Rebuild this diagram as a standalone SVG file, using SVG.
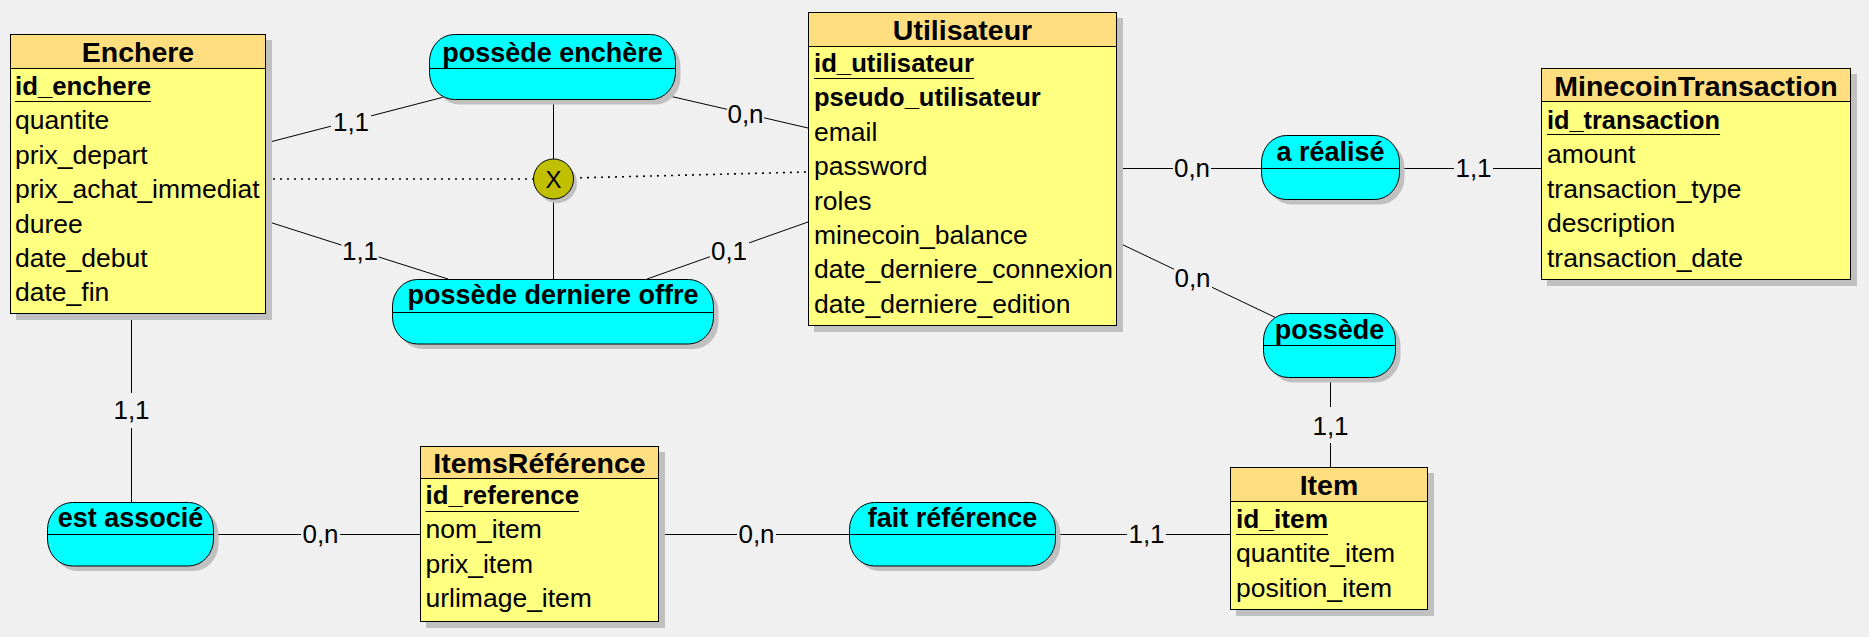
<svg xmlns="http://www.w3.org/2000/svg" width="1869" height="637" viewBox="0 0 1869 637">
<style>
.bg{fill:#f0f0f0}
.sh{fill:#c0c0c0}
.eh{fill:#ffde80;stroke:#000;stroke-width:1}
.eb{fill:#ffff80;stroke:#000;stroke-width:1}
.as{fill:#00ffff;stroke:#000;stroke-width:1}
.dv{stroke:#000;stroke-width:1}
.ln{stroke:#000;stroke-width:1;fill:none}
.dot{stroke:#000;stroke-width:1.6;stroke-dasharray:2 5;fill:none}
text{font-family:'Liberation Sans',Arial,sans-serif;fill:#000}
.et{font-size:28.5px;font-weight:bold;text-anchor:middle}
.at{font-size:27px;font-weight:bold;text-anchor:middle}
.a{font-size:26.5px}
.pk{font-size:25.5px;font-weight:bold}
.c{font-size:26px;text-anchor:middle}
.x{font-size:24px;text-anchor:middle}
</style>
<rect class="bg" x="0" y="0" width="1869" height="637"/>

<g id="connectors">
  <path class="ln" d="M266,143 L331,126.2 M371,115.9 L444,97"/>
  <text class="c" x="351" y="131">1,1</text>
  <path class="ln" d="M266,221 L341.5,245.1 M378.5,256.9 L448,279"/>
  <text class="c" x="360" y="260">1,1</text>
  <path class="ln" d="M665,95 L727,109.3 M764,117.8 L808,128"/>
  <text class="c" x="745.5" y="123">0,n</text>
  <path class="ln" d="M647,279 L710,256.7 M749,242.9 L808,222"/>
  <text class="c" x="729" y="260">0,1</text>
  <path class="ln" d="M553.5,100 V159 M553.5,199 V279"/>
  <path class="dot" d="M266,179 H533"/>
  <path class="dot" d="M573,178 L808,172"/>
  <path class="ln" d="M1117,168.5 H1173 M1211,168.5 H1261"/>
  <text class="c" x="1192" y="177">0,n</text>
  <path class="ln" d="M1400,168.5 H1454 M1493,168.5 H1541"/>
  <text class="c" x="1473.5" y="177">1,1</text>
  <path class="ln" d="M1117,242 L1174,269.2 M1212,287.3 L1276.5,318"/>
  <text class="c" x="1192.5" y="287">0,n</text>
  <path class="ln" d="M1330.5,378 V407 M1330.5,443 V467"/>
  <text class="c" x="1330.5" y="435">1,1</text>
  <path class="ln" d="M131.5,314 V393 M131.5,428 V502"/>
  <text class="c" x="131.5" y="419">1,1</text>
  <path class="ln" d="M214,534.5 H301 M340,534.5 H420"/>
  <text class="c" x="320.5" y="543">0,n</text>
  <path class="ln" d="M658,534.5 H737 M776,534.5 H849"/>
  <text class="c" x="756.5" y="543">0,n</text>
  <path class="ln" d="M1056,534.5 H1127 M1166,534.5 H1230"/>
  <text class="c" x="1146.5" y="543">1,1</text>
</g>

<g id="x-constraint">
  <circle class="sh" cx="557" cy="183" r="20"/>
  <circle cx="553.5" cy="179" r="20" fill="#c0c000" stroke="#000" stroke-width="1"/>
  <text class="x" x="553.5" y="188">X</text>
</g>

<g id="enchere">
  <rect class="sh" x="16" y="40" width="256" height="280"/>
  <rect class="eb" x="10.5" y="34.5" width="255" height="279"/>
  <rect class="eh" x="10.5" y="34.5" width="255" height="34"/>
  <text class="et" x="138" y="62">Enchere</text>
  <text class="pk" x="15" y="95" textLength="136" lengthAdjust="spacingAndGlyphs">id_enchere</text>
  <line class="dv" x1="15" y1="101.5" x2="151" y2="101.5"/>
  <text class="a" x="15" y="129.4">quantite</text>
  <text class="a" x="15" y="163.8">prix_depart</text>
  <text class="a" x="15" y="198.2">prix_achat_immediat</text>
  <text class="a" x="15" y="232.6">duree</text>
  <text class="a" x="15" y="267">date_debut</text>
  <text class="a" x="15" y="301.4">date_fin</text>
</g>

<g id="utilisateur">
  <rect class="sh" x="814" y="18" width="309" height="314"/>
  <rect class="eb" x="808.5" y="12.5" width="308" height="313"/>
  <rect class="eh" x="808.5" y="12.5" width="308" height="34"/>
  <text class="et" x="962.5" y="40">Utilisateur</text>
  <text class="pk" x="814" y="72" textLength="160" lengthAdjust="spacingAndGlyphs">id_utilisateur</text>
  <line class="dv" x1="814" y1="78.5" x2="974" y2="78.5"/>
  <text class="pk" x="814" y="106.4">pseudo_utilisateur</text>
  <text class="a" x="814" y="140.8">email</text>
  <text class="a" x="814" y="175.2">password</text>
  <text class="a" x="814" y="209.6">roles</text>
  <text class="a" x="814" y="244">minecoin_balance</text>
  <text class="a" x="814" y="278.4">date_derniere_connexion</text>
  <text class="a" x="814" y="312.8">date_derniere_edition</text>
</g>

<g id="minecointransaction">
  <rect class="sh" x="1547" y="74" width="310" height="212"/>
  <rect class="eb" x="1541.5" y="68.5" width="309" height="211"/>
  <rect class="eh" x="1541.5" y="68.5" width="309" height="33"/>
  <text class="et" x="1696" y="95.5">MinecoinTransaction</text>
  <text class="pk" x="1547" y="129" textLength="173" lengthAdjust="spacingAndGlyphs">id_transaction</text>
  <line class="dv" x1="1547" y1="134.5" x2="1720" y2="134.5"/>
  <text class="a" x="1547" y="163.4">amount</text>
  <text class="a" x="1547" y="197.8">transaction_type</text>
  <text class="a" x="1547" y="232.2">description</text>
  <text class="a" x="1547" y="266.6">transaction_date</text>
</g>

<g id="itemsreference">
  <rect class="sh" x="426" y="452" width="239" height="176"/>
  <rect class="eb" x="420.5" y="446.5" width="238" height="175"/>
  <rect class="eh" x="420.5" y="446.5" width="238" height="32"/>
  <text class="et" x="539.5" y="473">ItemsRéférence</text>
  <text class="pk" x="425.5" y="504" textLength="153.5" lengthAdjust="spacingAndGlyphs">id_reference</text>
  <line class="dv" x1="425.5" y1="511.5" x2="579" y2="511.5"/>
  <text class="a" x="425.5" y="538.4">nom_item</text>
  <text class="a" x="425.5" y="572.8">prix_item</text>
  <text class="a" x="425.5" y="607.2">urlimage_item</text>
</g>

<g id="item">
  <rect class="sh" x="1236" y="473" width="198" height="143"/>
  <rect class="eb" x="1230.5" y="467.5" width="197" height="142"/>
  <rect class="eh" x="1230.5" y="467.5" width="197" height="34"/>
  <text class="et" x="1329" y="495">Item</text>
  <text class="pk" x="1236" y="528" textLength="92" lengthAdjust="spacingAndGlyphs">id_item</text>
  <line class="dv" x1="1236" y1="534.5" x2="1328" y2="534.5"/>
  <text class="a" x="1236" y="562.4">quantite_item</text>
  <text class="a" x="1236" y="596.8">position_item</text>
</g>

<g id="possede-enchere">
  <rect class="sh" x="434.5" y="39.5" width="246" height="65" rx="25" ry="27"/>
  <rect class="as" x="429.5" y="34.5" width="246" height="65" rx="25" ry="27"/>
  <line class="dv" x1="429.5" y1="68.5" x2="675.5" y2="68.5"/>
  <text class="at" x="552.5" y="62">possède enchère</text>
</g>

<g id="possede-derniere-offre">
  <rect class="sh" x="397.5" y="284.5" width="321" height="64.5" rx="25" ry="27"/>
  <rect class="as" x="392.5" y="279.5" width="321" height="64.5" rx="25" ry="27"/>
  <line class="dv" x1="392.5" y1="312.5" x2="713.5" y2="312.5"/>
  <text class="at" x="553" y="304">possède derniere offre</text>
</g>

<g id="a-realise">
  <rect class="sh" x="1266.5" y="140.5" width="138" height="64" rx="25" ry="27"/>
  <rect class="as" x="1261.5" y="135.5" width="138" height="64" rx="25" ry="27"/>
  <line class="dv" x1="1261.5" y1="168.5" x2="1399.5" y2="168.5"/>
  <text class="at" x="1330.5" y="161">a réalisé</text>
</g>

<g id="possede">
  <rect class="sh" x="1268.5" y="318.5" width="132" height="64" rx="25" ry="27"/>
  <rect class="as" x="1263.5" y="313.5" width="132" height="64" rx="25" ry="27"/>
  <line class="dv" x1="1263.5" y1="345.5" x2="1395.5" y2="345.5"/>
  <text class="at" x="1329.5" y="339">possède</text>
</g>

<g id="est-associe">
  <rect class="sh" x="52.5" y="507.5" width="166" height="63.5" rx="25" ry="27"/>
  <rect class="as" x="47.5" y="502.5" width="166" height="63.5" rx="25" ry="27"/>
  <line class="dv" x1="47.5" y1="534.5" x2="213.5" y2="534.5"/>
  <text class="at" x="130.5" y="527">est associé</text>
</g>

<g id="fait-reference">
  <rect class="sh" x="854.5" y="507.5" width="206" height="63.5" rx="25" ry="27"/>
  <rect class="as" x="849.5" y="502.5" width="206" height="63.5" rx="25" ry="27"/>
  <line class="dv" x1="849.5" y1="534.5" x2="1055.5" y2="534.5"/>
  <text class="at" x="952.5" y="527">fait référence</text>
</g>
</svg>
